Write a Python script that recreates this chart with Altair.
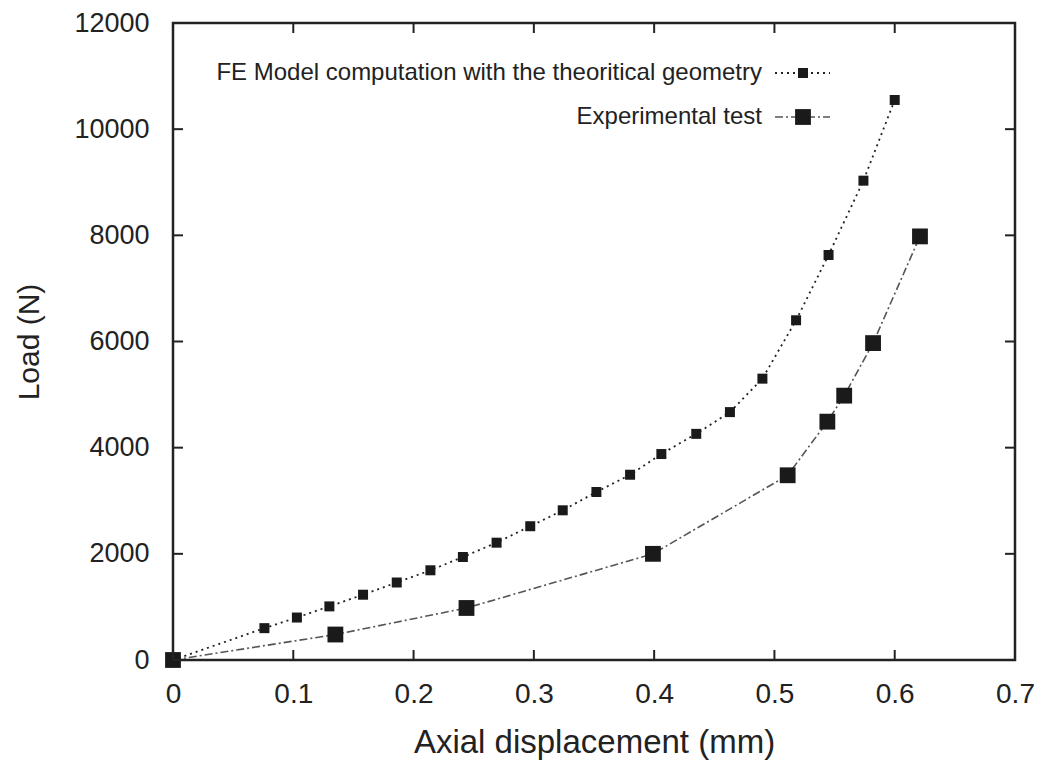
import altair as alt
import pandas as pd

# ---- data ----
fe_x = [0, 0.076, 0.103, 0.130, 0.158, 0.186, 0.214, 0.241, 0.269, 0.297, 0.324,
        0.352, 0.380, 0.406, 0.435, 0.463, 0.490, 0.518, 0.545, 0.574, 0.600]
fe_y = [0, 600, 800, 1010, 1230, 1460, 1690, 1940, 2210, 2520, 2820,
        3165, 3490, 3880, 4260, 4670, 5300, 6400, 7630, 9030, 10550]

exp_x = [0, 0.135, 0.244, 0.399, 0.511, 0.544, 0.558, 0.582, 0.621]
exp_y = [0, 480, 980, 2000, 3480, 4490, 4980, 5970, 7980]

x_ticks = [0, 0.1, 0.2, 0.3, 0.4, 0.5, 0.6, 0.7]
y_ticks = [0, 2000, 4000, 6000, 8000, 10000, 12000]

fe_label = "FE Model computation with the theoritical geometry"
exp_label = "Experimental test"

W, H = 842, 637
FONT = "Liberation Sans"

fe = pd.DataFrame({"x": fe_x, "y": fe_y})
ex = pd.DataFrame({"x": exp_x, "y": exp_y})
xt = pd.DataFrame({"v": x_ticks})
yt = pd.DataFrame({"v": y_ticks})

xscale = alt.Scale(domain=[0, 0.7], nice=False, zero=False)
yscale = alt.Scale(domain=[0, 12000], nice=False, zero=False)

xaxis = alt.Axis(values=x_ticks, format="~g", title="Axial displacement (mm)",
                 grid=False, ticks=False, domain=False, labelPadding=20,
                 labelFontSize=28, labelFont=FONT, labelColor="#222",
                 titleFont=FONT, titleFontSize=33, titleFontWeight="normal",
                 titlePadding=18, titleColor="#222", labelFlush=False)
yaxis = alt.Axis(values=y_ticks, format="d", title="Load (N)",
                 grid=False, ticks=False, domain=False, labelPadding=24,
                 labelFontSize=27, labelFont=FONT, labelColor="#222",
                 titleFont=FONT, titleFontSize=30, titleFontWeight="normal",
                 titlePadding=29, titleColor="#222", labelFlush=False)

base_axes = alt.Chart(fe).mark_point(opacity=0).encode(
    x=alt.X("x:Q", scale=xscale, axis=xaxis),
    y=alt.Y("y:Q", scale=yscale, axis=yaxis),
)

fe_line = alt.Chart(fe).mark_line(color="#222", strokeWidth=1.8, strokeDash=[2, 4]).encode(
    x=alt.X("x:Q", scale=xscale), y=alt.Y("y:Q", scale=yscale))
fe_pts = alt.Chart(fe).mark_point(shape="square", filled=True, color="#1a1a1a", size=100, opacity=1).encode(
    x=alt.X("x:Q", scale=xscale), y=alt.Y("y:Q", scale=yscale))

ex_line = alt.Chart(ex).mark_line(color="#555", strokeWidth=1.6, strokeDash=[8, 3, 2, 3]).encode(
    x=alt.X("x:Q", scale=xscale), y=alt.Y("y:Q", scale=yscale))
ex_pts = alt.Chart(ex).mark_point(shape="square", filled=True, color="#1a1a1a", size=250, opacity=1).encode(
    x=alt.X("x:Q", scale=xscale), y=alt.Y("y:Q", scale=yscale))

# inward ticks on all four sides
TL = 10
bt = alt.Chart(xt).mark_rule(color="#222", strokeWidth=2).encode(
    x=alt.X("v:Q", scale=xscale), y=alt.value(H), y2=alt.value(H - TL))
tt = alt.Chart(xt).mark_rule(color="#222", strokeWidth=2).encode(
    x=alt.X("v:Q", scale=xscale), y=alt.value(0), y2=alt.value(TL))
lt = alt.Chart(yt).mark_rule(color="#222", strokeWidth=2).encode(
    y=alt.Y("v:Q", scale=yscale), x=alt.value(0), x2=alt.value(TL))
rt = alt.Chart(yt).mark_rule(color="#222", strokeWidth=2).encode(
    y=alt.Y("v:Q", scale=yscale), x=alt.value(W), x2=alt.value(W - TL))

# legend (inside top right, text left of symbol)
LX_T, LX1, LX2, LXM = 589, 602, 657, 630
LY1, LY2 = 50, 94
leg_df = pd.DataFrame({"k": [0]})
leg_t1 = alt.Chart(leg_df).mark_text(align="right", baseline="middle", font=FONT,
                                     fontSize=24, color="#222").encode(
    x=alt.value(LX_T), y=alt.value(LY1), text=alt.value(fe_label))
leg_t2 = alt.Chart(leg_df).mark_text(align="right", baseline="middle", font=FONT,
                                     fontSize=24, color="#222").encode(
    x=alt.value(LX_T), y=alt.value(LY2), text=alt.value(exp_label))
leg_l1 = alt.Chart(leg_df).mark_rule(color="#222", strokeWidth=1.8, strokeDash=[2, 4]).encode(
    x=alt.value(LX1), x2=alt.value(LX2), y=alt.value(LY1))
leg_l2 = alt.Chart(leg_df).mark_rule(color="#555", strokeWidth=1.6, strokeDash=[8, 3, 2, 3]).encode(
    x=alt.value(LX1), x2=alt.value(LX2), y=alt.value(LY2))
leg_p1 = alt.Chart(leg_df).mark_point(shape="square", filled=True, color="#1a1a1a", size=100, opacity=1).encode(
    x=alt.value(LXM), y=alt.value(LY1))
leg_p2 = alt.Chart(leg_df).mark_point(shape="square", filled=True, color="#1a1a1a", size=250, opacity=1).encode(
    x=alt.value(LXM), y=alt.value(LY2))

chart = alt.layer(
    base_axes, fe_line, ex_line, fe_pts, ex_pts, bt, tt, lt, rt,
    leg_l1, leg_l2, leg_p1, leg_p2, leg_t1, leg_t2
).properties(
    width=W, height=H,
    autosize=alt.AutoSizeParams(type="none"),
    padding={"left": 165, "top": 15, "right": 20, "bottom": 110},
    background="white",
).configure_view(
    stroke="#222", strokeWidth=2.5
)

chart.save("out.html", embed_options={"renderer": "svg", "actions": False})
